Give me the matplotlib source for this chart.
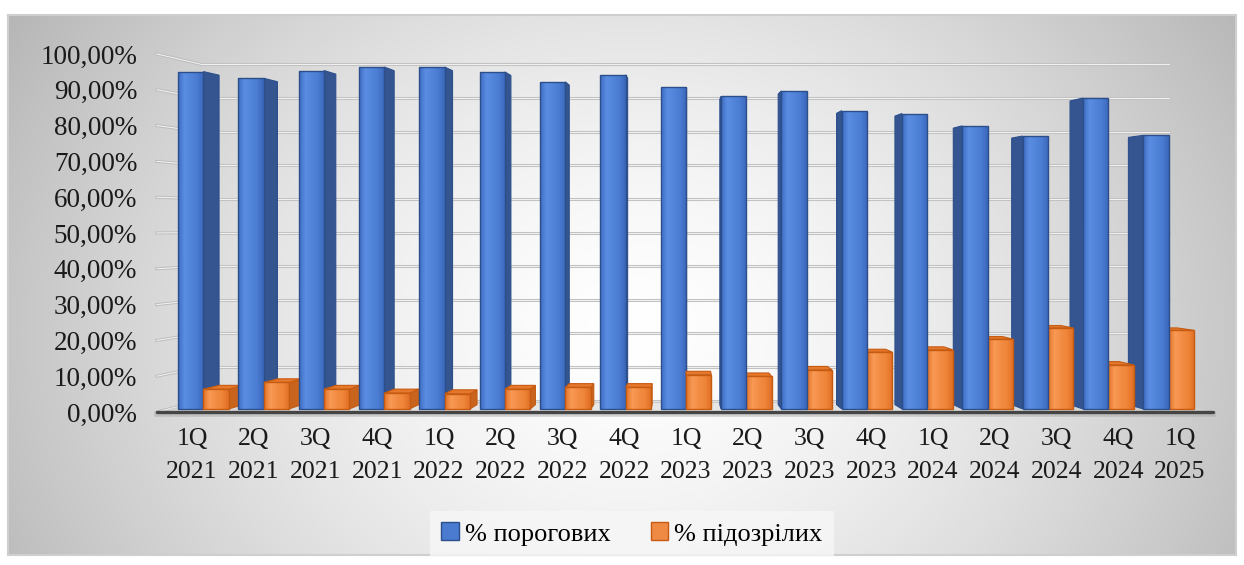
import numpy as np
import matplotlib.pyplot as plt
from matplotlib.patches import Polygon, Patch
from matplotlib.colors import LinearSegmentedColormap

plt.rcParams['font.family'] = ['Liberation Serif', 'DejaVu Serif']

quarters = ['1Q\n2021', '2Q\n2021', '3Q\n2021', '4Q\n2021',
            '1Q\n2022', '2Q\n2022', '3Q\n2022', '4Q\n2022',
            '1Q\n2023', '2Q\n2023', '3Q\n2023', '4Q\n2023',
            '1Q\n2024', '2Q\n2024', '3Q\n2024', '4Q\n2024',
            '1Q\n2025']
porogovi = [95.8, 93.9, 96.1, 97.1, 97.1, 95.7, 92.9, 94.9, 91.5,
            88.8, 90.3, 84.7, 83.9, 80.4, 77.5, 88.3, 77.7]
pidozrili = [5.6, 7.5, 5.6, 4.5, 4.3, 5.6, 6.1, 6.1, 9.7,
             9.2, 11.1, 16.1, 16.8, 19.8, 23.0, 12.5, 22.3]
yticks = list(range(0, 101, 10))
ylabels = ['%d,00%%' % v for v in yticks]
series_names = ['% порогових', '% підозрілих']

# simple perspective for the 3d look (data units)
VX, VY = 8.0, 52.2
KX, KY = 0.083, 0.06
D_FRONT, D_BACK = 0.28, 0.66
W = 0.42
X_LEFT, X_RIGHT = -0.57, 16.53


def proj(x, y, d):
    return (VX + (x - VX) * (1 - KX * d), VY + (y - VY) * (1 - KY * d))


fig = plt.figure(figsize=(12.44, 5.65), dpi=100)
fig.patch.set_facecolor('white')

# chart area background - radial grey gradient
bg = fig.add_axes([8 / 1244, 10 / 565, 1228 / 1244, 540 / 565])
gx, gy = np.meshgrid(np.linspace(8, 1236, 400), np.linspace(15, 555, 200))
r = np.sqrt(((gx - 630) / 630) ** 2 + ((gy - 330) / 520) ** 2)
shade = 1 - 0.23 * r ** 1.5
bg.imshow(np.dstack([shade, shade, shade]).clip(0, 1), aspect='auto',
          extent=[0, 1, 0, 1], origin='upper')
bg.set_xticks([])
bg.set_yticks([])
for s in bg.spines.values():
    s.set_color('#cfcfcf')
    s.set_linewidth(1.5)

ax = fig.add_axes([140 / 1244, (565 - 421) / 565, 1085 / 1244, 381 / 565])
ax.patch.set_alpha(0)
ax.set_xlim(-0.842, 16.729)
ax.set_ylim(-2.51, 103.9)
for s in ax.spines.values():
    s.set_visible(False)

# walls: gridlines on back wall and left side wall
for v in yticks:
    x0, y0 = proj(X_LEFT, v, 1)
    x1, y1 = proj(X_RIGHT, v, 1)
    ax.plot([x0, x1], [y0, y1], color='#c2c2c2', lw=2.2, zorder=1,
            solid_capstyle='round')
    ax.plot([x0, x1], [y0, y1], color='#f2f2f2', lw=0.7, zorder=1.1)
    fx, fy = proj(X_LEFT, v, 0)
    ax.plot([fx, x0], [fy, y0], color='#bdbdbd', lw=2.2, zorder=1)
    ax.plot([fx, x0], [fy, y0], color='#f5f5f5', lw=0.7, zorder=1.1)

# floor
floor = [proj(X_LEFT, 0, 0), proj(X_RIGHT, 0, 0),
         proj(X_RIGHT, 0, 1), proj(X_LEFT, 0, 1)]
ax.add_patch(Polygon(floor, closed=True, facecolor='#d4d4d4', alpha=0.5,
                     edgecolor='none', zorder=1.5))
fl = proj(X_LEFT, 0, 0)
fr = proj(X_RIGHT, 0, 0)
ax.plot([fl[0], fr[0]], [fl[1] - 0.6, fr[1] - 0.6], color='#a0a0a0', lw=4,
        alpha=0.45, zorder=1.6)
ax.plot([fl[0], fr[0]], [fl[1], fr[1]], color='#454545', lw=2.4, zorder=1.7,
        solid_capstyle='round')

blue_front = LinearSegmentedColormap.from_list(
    'bf', ['#3d6cc2', '#5b8ee2', '#5185da', '#4a7cd2', '#3a66b8'])
orange_front = LinearSegmentedColormap.from_list(
    'of', ['#e47429', '#f89a55', '#f28c44', '#ef8538', '#de6d25'])
styles = {
    'blue': dict(cmap=blue_front, side='#34558f', top='#4a78c8', edge='#2c4f8c'),
    'orange': dict(cmap=orange_front, side='#c9641f', top='#e6782c', edge='#c55a11'),
}
grad = np.linspace(0, 1, 64).reshape(1, -1)


def draw_bar(x0, x1, v, st, z):
    # side face toward the vanishing point
    if x1 <= VX:
        side = [proj(x1, 0, D_FRONT), proj(x1, 0, D_BACK),
                proj(x1, v, D_BACK), proj(x1, v, D_FRONT)]
    elif x0 >= VX:
        side = [proj(x0, 0, D_FRONT), proj(x0, 0, D_BACK),
                proj(x0, v, D_BACK), proj(x0, v, D_FRONT)]
    else:
        side = None
    if side is not None:
        ax.add_patch(Polygon(side, closed=True, facecolor=st['side'],
                             edgecolor=st['edge'], lw=0.8, zorder=z))
    # top face is seen only below eye level
    if v < VY:
        top = [proj(x0, v, D_FRONT), proj(x1, v, D_FRONT),
               proj(x1, v, D_BACK), proj(x0, v, D_BACK)]
        ax.add_patch(Polygon(top, closed=True, facecolor=st['top'],
                             edgecolor=st['edge'], lw=0.8, zorder=z + 0.1))
    fx0, fy0 = proj(x0, 0, D_FRONT)
    fx1, fy1 = proj(x1, v, D_FRONT)
    face = Polygon([(fx0, fy0), (fx1, fy0), (fx1, fy1), (fx0, fy1)],
                   closed=True, facecolor='none', edgecolor=st['edge'],
                   lw=1.0, zorder=z + 0.3)
    ax.add_patch(face)
    im = ax.imshow(grad, cmap=st['cmap'], aspect='auto',
                   extent=[fx0, fx1, fy0, fy1], zorder=z + 0.2)
    im.set_clip_path(face)


# paint clusters from the outside in, so nearer faces cover farther ones
order = sorted(range(len(quarters)), key=lambda i: -abs(i - VX))
z = 2
for i in order:
    pair = [((i - W, i), porogovi[i], styles['blue']),
            ((i, i + W), pidozrili[i], styles['orange'])]
    if i > VX:
        pair = pair[::-1]
    for (x0, x1), v, st in pair:
        draw_bar(x0, x1, v, st, z)
        z += 1

ax.set_yticks(yticks, ylabels)
ax.set_xticks(range(len(quarters)), quarters)
ax.tick_params(axis='y', length=0, pad=2, labelsize=19.5, labelcolor='#1a1a1a')
ax.tick_params(axis='x', length=0, pad=5, labelsize=18.5, labelcolor='#1a1a1a')
for t in ax.get_xticklabels():
    t.set_linespacing(1.65)

handles = [Patch(facecolor='#4a7bd0', edgecolor='#2c4f8c'),
           Patch(facecolor='#ef8a45', edgecolor='#c55a11')]
leg = fig.legend(handles, series_names, loc='center', ncol=2,
                 bbox_to_anchor=(632 / 1244, 1 - 534 / 565),
                 prop={'family': ['Liberation Serif'], 'size': 19},
                 frameon=True, handlelength=0.65, handleheight=0.65,
                 handletextpad=0.25, columnspacing=1.5,
                 borderpad=0.45, fancybox=False)
leg.get_frame().set_facecolor('#f7f7f7')
leg.get_frame().set_edgecolor('none')
leg.get_frame().set_alpha(0.8)

fig.savefig('out.png', dpi=100)
